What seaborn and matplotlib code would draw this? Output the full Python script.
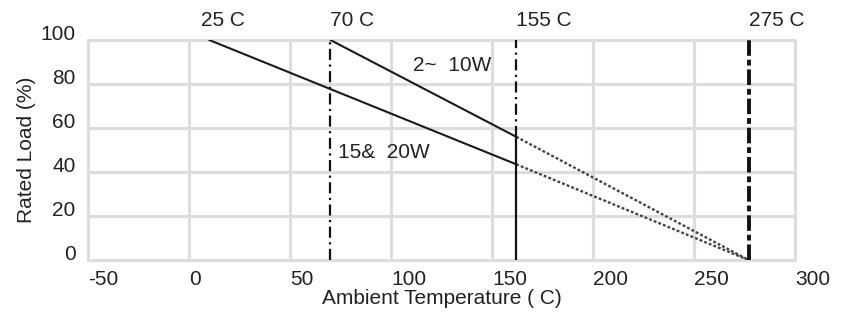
import numpy as np
import pandas as pd
import seaborn as sns
import matplotlib
matplotlib.use('Agg')
from matplotlib import pyplot as plt
from matplotlib.transforms import ScaledTranslation

# derating curves
seriesNames = ['15& 20W', '2~ 10W']
startTemp = [10, 70]       # full load up to here
kneeTemp = 162             # solid part ends at the 155 C marker
kneeLoad = [43.5, 56]
zeroTemp = 277             # both curves reach 0 at the 275 C marker

# vertical markers and their captions
markerTemps = [10, 70, 162, 277]
markerNames = ['25 C', '70 C', '155 C', '275 C']

xTicks = [-50, 0, 50, 100, 150, 200, 250, 300]
yTicks = [0, 20, 40, 60, 80, 100]

solidRows = []
dotRows = []
for name, t0, k in zip(seriesNames, startTemp, kneeLoad):
    solidRows += [(name, t0, 100), (name, kneeTemp, k)]
    dotRows += [(name, kneeTemp, k), (name, zeroTemp, 0)]
solidDF = pd.DataFrame(solidRows, columns=['Series', 'Temp', 'Load'])
dotDF = pd.DataFrame(dotRows, columns=['Series', 'Temp', 'Load'])

sns.set_style('white')
plt.rcParams['font.family'] = ['Liberation Sans', 'DejaVu Sans']
plt.rcParams['axes.unicode_minus'] = False
txtColor = '#222222'
fs = 15

fig = plt.figure(figsize=(8.41, 3.14), dpi=100)
ax = fig.add_axes([88 / 841, 54 / 314, 707 / 841, 220 / 314])

ax.set_xlim(-50, 300)
ax.set_ylim(0, 100)
ax.set_xticks(xTicks)
ax.set_yticks(yTicks)
ax.grid(True, color='#dddddd', linewidth=2.2)
ax.set_axisbelow(True)
for sp in ax.spines.values():
    sp.set_visible(False)
for gl in ax.get_xgridlines() + ax.get_ygridlines():
    gl.set_clip_on(False)

_ = sns.lineplot(data=solidDF, x='Temp', y='Load', units='Series', estimator=None,
                 color='#1a1a1a', linewidth=1.5, ax=ax, legend=False)
_ = sns.lineplot(data=dotDF, x='Temp', y='Load', units='Series', estimator=None,
                 color='#444444', linewidth=1.7, linestyle=(0, (1.2, 0.9)),
                 ax=ax, legend=False)

# marker lines
dashDot = (0, (5, 2, 1, 2))
ax.plot([markerTemps[1]] * 2, [0, 100], color='#111111', lw=1.6, ls=dashDot, zorder=3)
ax.plot([markerTemps[2]] * 2, [kneeLoad[1], 100], color='#111111', lw=1.6, ls=dashDot, zorder=3)
ax.plot([markerTemps[2]] * 2, [0, kneeLoad[1]], color='#111111', lw=1.6, zorder=3)
ax.plot([markerTemps[3]] * 2, [0, 100], color='#111111', lw=2.8, ls=(0, (4, 1, 1.5, 1)), zorder=3)

for t, name in zip(markerTemps, markerNames):
    ax.text(t - 4 if t == markerTemps[0] else t, 109, name, ha='left', va='center',
            fontsize=fs, color=txtColor, clip_on=False)

ax.text(111, 88.5, '2~  10W', ha='left', va='center', fontsize=fs, color=txtColor)
ax.text(74, 49, '15&  20W', ha='left', va='center', fontsize=fs, color=txtColor)

ax.tick_params(length=0, labelsize=fs, labelcolor=txtColor)
ax.tick_params(axis='x', pad=7)
ax.tick_params(axis='y', pad=9)
for lbl in ax.get_xticklabels():
    lbl.set_horizontalalignment('left')
for lbl in ax.get_yticklabels():
    lbl.set_transform(lbl.get_transform() + ScaledTranslation(0, 8 / 100, fig.dpi_scale_trans))

ax.set_xlabel('Ambient Temperature ( C)', fontsize=fs, color=txtColor, labelpad=0)
ax.set_ylabel('Rated Load (%)', fontsize=fs, color=txtColor, labelpad=3)

fig.savefig('out.png', dpi=100)
